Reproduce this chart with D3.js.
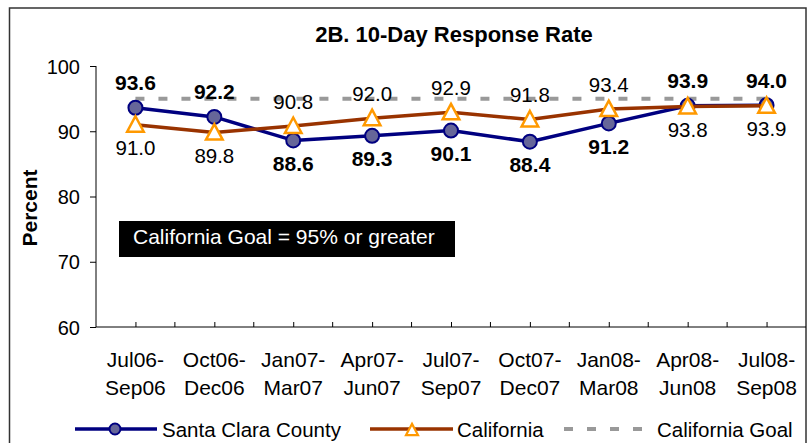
<!DOCTYPE html>
<html>
<head>
<meta charset="utf-8">
<script src="https://cdn.jsdelivr.net/npm/d3@7"></script>
<style>
  html, body { margin: 0; padding: 0; background: #fff; }
  svg { display: block; font-family: Arial, "Liberation Sans", sans-serif; }
</style>
</head>
<body>
<svg id="chart" width="809" height="443"></svg>
<script>
// ---- data ----
const categories = ["Jul06-Sep06", "Oct06-Dec06", "Jan07-Mar07", "Apr07-Jun07", "Jul07-Sep07",
                    "Oct07-Dec07", "Jan08-Mar08", "Apr08-Jun08", "Jul08-Sep08"];
const santaClara = [93.6, 92.2, 88.6, 89.3, 90.1, 88.4, 91.2, 93.9, 94.0];
const california = [91.0, 89.8, 90.8, 92.0, 92.9, 91.8, 93.4, 93.8, 93.9];
const goal       = [95, 95, 95, 95, 95, 95, 95, 95, 95];
const scLabelSide = ["above", "above", "below", "below", "below", "below", "below", "above", "above"];
const caLabelSide = ["below", "below", "above", "above", "above", "above", "above", "below", "below"];
const yTicks = [60, 70, 80, 90, 100];
const seriesNames = ["Santa Clara County", "California", "California Goal"];
const titleText = "2B. 10-Day Response Rate";
const yTitle = "Percent";
const noteText = "California Goal = 95% or greater";

// ---- layout ----
const svg = d3.select("#chart");
const navy = "#000080", circleFill = "#666699", brown = "#993300", orange = "#FF9900", grey = "#999999";

// outer border
svg.append("rect").attr("x", 9.5).attr("y", 8).attr("width", 796.5).attr("height", 460)
  .attr("fill", "#fff").attr("stroke", "#333").attr("stroke-width", 1.5);

const x = d3.scalePoint().domain(categories).range([96, 806]).padding(0.5);
const y = d3.scaleLinear().domain([60, 100]).range([327, 66]);
const step = x.step();

// title
svg.append("text").attr("x", 454).attr("y", 42).attr("text-anchor", "middle")
  .attr("font-size", 22).attr("font-weight", "bold").text(titleText);

// y axis
const yAxis = svg.append("g").attr("transform", "translate(96,0)")
  .call(d3.axisLeft(y).tickValues(yTicks).tickSize(6).tickPadding(10).tickFormat(d3.format("d")));
yAxis.select(".domain").attr("stroke", "#000").attr("d", "M0,66V327");
yAxis.selectAll(".tick line").attr("stroke", "#000");
yAxis.selectAll(".tick text").attr("font-size", 20).attr("font-family", "Arial, 'Liberation Sans', sans-serif")
  .attr("fill", "#000").attr("dy", "0.35em");

// y title
svg.append("text").attr("transform", "translate(36.5,208) rotate(-90)").attr("text-anchor", "middle")
  .attr("font-size", 21).attr("font-weight", "bold").text(yTitle);

// x axis
const xAxis = svg.append("g").attr("transform", "translate(0,327)")
  .call(d3.axisBottom(x).tickSize(-5).tickSizeOuter(0).tickFormat(() => ""));
xAxis.select(".domain").attr("stroke", "#000").attr("d", "M96,0H806");
xAxis.selectAll(".tick line").attr("stroke", "#000");
// boundary ticks between categories
xAxis.selectAll(".btick").data(categories.slice(1)).join("line")
  .attr("class", "btick")
  .attr("x1", d => x(d) - step / 2).attr("x2", d => x(d) - step / 2)
  .attr("y1", 0).attr("y2", -5).attr("stroke", "#000");

// category labels (two lines)
const catLabels = svg.append("g").selectAll("text").data(categories).join("text")
  .attr("x", d => x(d)).attr("y", 367).attr("text-anchor", "middle").attr("font-size", 21);
catLabels.append("tspan").attr("x", d => x(d)).text(d => d.split("-")[0] + "-");
catLabels.append("tspan").attr("x", d => x(d)).attr("dy", 28).text(d => d.split("-")[1]);

// goal line
const line = d3.line().x((d, i) => x(categories[i])).y(d => y(d));
svg.append("path").datum(goal).attr("d", line).attr("fill", "none")
  .attr("stroke", grey).attr("stroke-width", 4).attr("stroke-dasharray", "9,14");

// note box
svg.append("rect").attr("x", 119).attr("y", 221).attr("width", 336).attr("height", 36).attr("fill", "#000");
svg.append("text").attr("x", 133).attr("y", 243.5).attr("fill", "#fff").attr("font-size", 21).text(noteText);

// Santa Clara series
svg.append("path").datum(santaClara).attr("d", line).attr("fill", "none")
  .attr("stroke", navy).attr("stroke-width", 3.5).attr("stroke-linejoin", "round");
svg.append("g").selectAll("circle").data(santaClara).join("circle")
  .attr("cx", (d, i) => x(categories[i])).attr("cy", d => y(d)).attr("r", 7)
  .attr("fill", circleFill).attr("stroke", navy).attr("stroke-width", 2);

// California series
const tri = d3.path ? null : null;
const triPath = (s) => `M0,${-8.5 * s}L${8.3 * s},${7 * s}L${-8.3 * s},${7 * s}Z`;
svg.append("path").datum(california).attr("d", line).attr("fill", "none")
  .attr("stroke", brown).attr("stroke-width", 3.5).attr("stroke-linejoin", "round");
svg.append("g").selectAll("path").data(california).join("path")
  .attr("transform", (d, i) => `translate(${x(categories[i])},${y(d)})`)
  .attr("d", triPath(1)).attr("fill", "#fff").attr("stroke", orange).attr("stroke-width", 2.5);

// data labels
const labelY = (v, side) => side === "above" ? y(v) - 17.5 : y(v) + 30.5;
svg.append("g").selectAll("text").data(santaClara).join("text")
  .attr("x", (d, i) => x(categories[i])).attr("y", (d, i) => labelY(d, scLabelSide[i]))
  .attr("text-anchor", "middle").attr("font-size", 21).attr("font-weight", "bold")
  .text(d => d3.format(".1f")(d));
svg.append("g").selectAll("text").data(california).join("text")
  .attr("x", (d, i) => x(categories[i])).attr("y", (d, i) => labelY(d, caLabelSide[i]))
  .attr("text-anchor", "middle").attr("font-size", 20.5)
  .text(d => d3.format(".1f")(d));

// legend
const ly = 429;
const lg = svg.append("g");
lg.append("line").attr("x1", 75).attr("x2", 157).attr("y1", ly).attr("y2", ly).attr("stroke", navy).attr("stroke-width", 3.5);
lg.append("circle").attr("cx", 115).attr("cy", ly).attr("r", 5.5).attr("fill", circleFill).attr("stroke", navy).attr("stroke-width", 2);
lg.append("text").attr("x", 162).attr("y", ly + 7.5).attr("font-size", 20.5).text(seriesNames[0]);
lg.append("line").attr("x1", 370).attr("x2", 453).attr("y1", ly).attr("y2", ly).attr("stroke", brown).attr("stroke-width", 3.5);
lg.append("path").attr("transform", `translate(412,${ly + 1})`).attr("d", triPath(0.72))
  .attr("fill", "#fff").attr("stroke", orange).attr("stroke-width", 2.2);
lg.append("text").attr("x", 457).attr("y", ly + 7.5).attr("font-size", 20.5).text(seriesNames[1]);
lg.append("line").attr("x1", 564).attr("x2", 652).attr("y1", ly).attr("y2", ly).attr("stroke", grey)
  .attr("stroke-width", 4).attr("stroke-dasharray", "9,14");
lg.append("text").attr("x", 657).attr("y", ly + 7.5).attr("font-size", 20.5).text(seriesNames[2]);
</script>
</body>
</html>
